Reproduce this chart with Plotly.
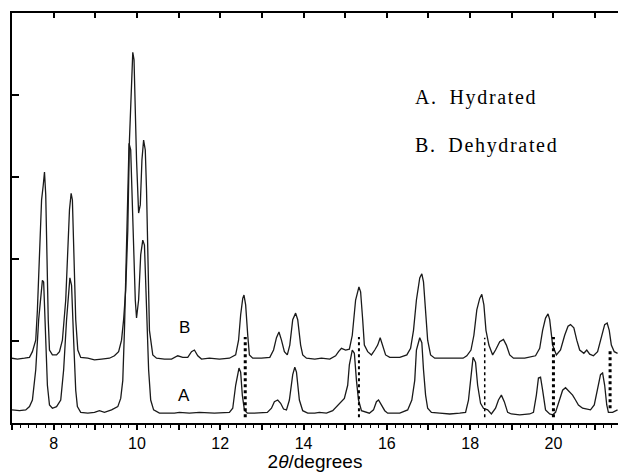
import plotly.graph_objects as go

# Curve A (hydrated) – 2theta (deg), intensity (a.u.)
a_x = [7.00, 7.18, 7.33, 7.42, 7.49, 7.57, 7.64, 7.73, 7.76, 7.81, 7.85, 7.90, 7.97, 8.07, 8.17, 8.24, 8.31, 8.39, 8.43, 8.48,
       8.53, 8.57, 8.65, 8.82, 8.98, 9.10, 9.22, 9.39, 9.54, 9.61, 9.66, 9.70, 9.75, 9.81, 9.85, 9.90, 9.96, 9.99, 10.04, 10.09,
       10.14, 10.18, 10.23, 10.28, 10.33, 10.40, 10.54, 10.90, 11.02, 11.26, 11.50, 11.86, 12.22, 12.30, 12.37, 12.45, 12.49, 12.53, 12.58, 12.65,
       12.82, 13.13, 13.23, 13.30, 13.38, 13.45, 13.52, 13.59, 13.66, 13.74, 13.79, 13.83, 13.90, 13.98, 14.10, 14.27, 14.38, 14.55, 14.70, 14.82,
       14.91, 14.98, 15.06, 15.10, 15.17, 15.22, 15.27, 15.32, 15.39, 15.49, 15.58, 15.68, 15.75, 15.80, 15.87, 15.95, 16.02, 16.31, 16.50, 16.60,
       16.67, 16.71, 16.79, 16.84, 16.88, 16.93, 16.98, 17.07, 17.27, 17.51, 17.75, 17.89, 17.96, 18.01, 18.07, 18.13, 18.18, 18.25, 18.32, 18.42,
       18.51, 18.61, 18.68, 18.75, 18.82, 18.90, 18.99, 19.19, 19.43, 19.52, 19.59, 19.64, 19.69, 19.74, 19.81, 19.91, 19.98, 20.05, 20.15, 20.22,
       20.29, 20.39, 20.46, 20.53, 20.60, 20.70, 20.79, 20.89, 20.98, 21.06, 21.13, 21.18, 21.23, 21.28, 21.32, 21.42, 21.54]
a_y = [0.16, 0.15, 0.16, 0.20, 0.28, 0.65, 1.26, 1.74, 1.72, 1.13, 0.46, 0.22, 0.18, 0.20, 0.28, 0.65, 1.26, 1.77, 1.68, 1.01,
       0.40, 0.20, 0.13, 0.12, 0.13, 0.15, 0.13, 0.16, 0.20, 0.30, 0.52, 1.13, 2.35, 3.41, 3.33, 2.35, 1.50, 1.28, 1.50, 2.05,
       2.23, 2.17, 1.50, 0.65, 0.28, 0.16, 0.12, 0.12, 0.13, 0.12, 0.13, 0.12, 0.13, 0.18, 0.46, 0.67, 0.62, 0.34, 0.16, 0.12,
       0.12, 0.13, 0.18, 0.26, 0.28, 0.24, 0.17, 0.16, 0.28, 0.59, 0.68, 0.62, 0.28, 0.15, 0.12, 0.12, 0.13, 0.12, 0.15, 0.21,
       0.26, 0.30, 0.46, 0.71, 0.89, 0.85, 0.52, 0.28, 0.15, 0.13, 0.12, 0.16, 0.26, 0.28, 0.22, 0.15, 0.12, 0.12, 0.16, 0.28,
       0.52, 0.89, 1.04, 0.98, 0.65, 0.34, 0.18, 0.13, 0.12, 0.11, 0.12, 0.13, 0.28, 0.52, 0.80, 0.74, 0.46, 0.24, 0.18, 0.16,
       0.11, 0.18, 0.28, 0.34, 0.26, 0.13, 0.11, 0.10, 0.11, 0.13, 0.34, 0.55, 0.56, 0.40, 0.16, 0.11, 0.10, 0.13, 0.28, 0.40,
       0.43, 0.38, 0.34, 0.28, 0.22, 0.18, 0.17, 0.16, 0.22, 0.40, 0.59, 0.61, 0.46, 0.22, 0.13, 0.13, 0.16]

# Curve B (dehydrated)
b_x = [7.00, 7.13, 7.30, 7.42, 7.49, 7.57, 7.61, 7.66, 7.71, 7.75, 7.78, 7.81, 7.83, 7.87, 7.90, 7.97, 8.07, 8.14, 8.21, 8.29,
       8.34, 8.38, 8.42, 8.45, 8.49, 8.53, 8.58, 8.65, 8.82, 8.98, 9.15, 9.34, 9.46, 9.56, 9.63, 9.68, 9.73, 9.78, 9.82, 9.86,
       9.90, 9.93, 9.95, 9.99, 10.04, 10.08, 10.12, 10.16, 10.20, 10.23, 10.27, 10.30, 10.38, 10.47, 10.66, 10.83, 10.98, 11.10, 11.22, 11.31,
       11.38, 11.46, 11.55, 11.74, 11.98, 12.22, 12.37, 12.44, 12.49, 12.54, 12.57, 12.61, 12.66, 12.70, 12.78, 12.99, 13.19, 13.28, 13.35, 13.41,
       13.47, 13.54, 13.61, 13.67, 13.74, 13.81, 13.86, 13.93, 13.98, 14.07, 14.27, 14.43, 14.63, 14.77, 14.84, 14.91, 15.01, 15.10, 15.17, 15.25,
       15.33, 15.37, 15.42, 15.46, 15.54, 15.63, 15.71, 15.78, 15.84, 15.90, 15.97, 16.07, 16.31, 16.48, 16.57, 16.64, 16.71, 16.79, 16.84, 16.88,
       16.93, 16.98, 17.05, 17.15, 17.51, 17.83, 17.92, 18.02, 18.09, 18.16, 18.23, 18.28, 18.33, 18.38, 18.45, 18.54, 18.61, 18.71, 18.80, 18.87,
       18.95, 19.04, 19.31, 19.57, 19.67, 19.74, 19.81, 19.87, 19.91, 19.98, 20.07, 20.17, 20.27, 20.35, 20.41, 20.49, 20.56, 20.63, 20.73, 20.80,
       20.87, 20.96, 21.06, 21.16, 21.23, 21.29, 21.34, 21.39, 21.46, 21.54]
b_y = [0.79, 0.78, 0.79, 0.80, 0.87, 1.01, 1.38, 2.11, 2.72, 2.90, 3.06, 2.78, 2.11, 1.26, 0.89, 0.83, 0.83, 0.87, 1.01, 1.50,
       2.11, 2.60, 2.80, 2.72, 1.99, 1.26, 0.89, 0.80, 0.79, 0.77, 0.78, 0.79, 0.82, 0.87, 1.01, 1.26, 1.62, 2.35, 3.45, 4.00,
       4.52, 4.43, 3.94, 3.21, 2.56, 2.66, 3.21, 3.45, 3.33, 2.84, 1.87, 1.13, 0.83, 0.79, 0.78, 0.78, 0.82, 0.80, 0.80, 0.87,
       0.89, 0.82, 0.78, 0.79, 0.78, 0.79, 0.83, 1.01, 1.32, 1.52, 1.56, 1.44, 1.07, 0.83, 0.79, 0.79, 0.80, 0.89, 1.04, 1.11,
       1.01, 0.87, 0.83, 0.95, 1.26, 1.34, 1.26, 0.95, 0.83, 0.79, 0.78, 0.79, 0.78, 0.82, 0.87, 0.91, 0.89, 0.90, 1.07, 1.50,
       1.66, 1.60, 1.26, 0.95, 0.87, 0.83, 0.89, 0.95, 1.04, 0.95, 0.83, 0.80, 0.80, 0.83, 0.91, 1.13, 1.50, 1.77, 1.82, 1.72,
       1.38, 1.01, 0.83, 0.79, 0.79, 0.79, 0.82, 0.89, 1.07, 1.38, 1.52, 1.57, 1.44, 1.13, 0.95, 0.83, 0.89, 0.99, 1.02, 0.95,
       0.83, 0.79, 0.79, 0.82, 0.91, 1.13, 1.28, 1.33, 1.26, 0.95, 0.83, 0.89, 1.07, 1.18, 1.20, 1.16, 1.01, 0.89, 0.85, 0.89,
       0.84, 0.82, 0.87, 1.07, 1.20, 1.22, 1.13, 0.95, 0.87, 0.85]

# Dotted reference markers
marker_x = [12.60, 15.33, 18.35, 20.00, 21.36]
marker_top = [1.05, 1.05, 1.04, 1.05, 0.91]
marker_bottom = [0.07, 0.07, 0.07, 0.07, 0.18]
marker_width = [3, 2, 1.5, 3, 3]

legend_lines = ["A. Hydrated", "B. Dehydrated"]

x_range = [7, 21.55]
y_range = [0, 5]
x_ticks = list(range(7, 22))
x_ticktext = [str(v) if v % 2 == 0 else "" for v in x_ticks]


def spaced(s):
    # widen letter spacing like the reference's bitmap font
    return "\u200a".join(s.replace(" ", "\u2002"))


fig = go.Figure()
line_col = "#1a1a1a"
fig.add_trace(go.Scatter(x=a_x, y=a_y, mode="lines", line=dict(color=line_col, width=1.3), showlegend=False, hoverinfo="skip"))
fig.add_trace(go.Scatter(x=b_x, y=b_y, mode="lines", line=dict(color=line_col, width=1.3), showlegend=False, hoverinfo="skip"))
for mx, mt, mb, mw in zip(marker_x, marker_top, marker_bottom, marker_width):
    fig.add_trace(go.Scatter(x=[mx, mx], y=[mb, mt], mode="lines",
                             line=dict(color="black", width=mw, dash="dot"), showlegend=False, hoverinfo="skip"))
# invisible trace to anchor top axis
fig.add_trace(go.Scatter(x=x_range, y=[None, None], xaxis="x2", mode="lines", showlegend=False, hoverinfo="skip"))

fig.add_annotation(x=11.14, y=1.17, text="B", showarrow=False, font=dict(family="Liberation Sans, Arial", size=17, color="black"))
fig.add_annotation(x=11.14, y=0.34, text="A", showarrow=False, font=dict(family="Liberation Sans, Arial", size=17, color="black"))
fig.add_annotation(x=16.62, y=3.97, text=spaced(legend_lines[0]), showarrow=False, xanchor="left",
                   font=dict(family="Liberation Serif, Times New Roman", size=20, color="black"))
fig.add_annotation(x=16.62, y=3.38, text=spaced(legend_lines[1]), showarrow=False, xanchor="left",
                   font=dict(family="Liberation Serif, Times New Roman", size=20, color="black"))

fig.update_layout(
    width=618, height=472,
    margin=dict(l=12, r=0, t=13, b=49),
    paper_bgcolor="white", plot_bgcolor="white",
    xaxis=dict(range=x_range, tickvals=x_ticks, ticktext=x_ticktext, ticks="outside", ticklen=5, tickwidth=1.5,
               tickcolor="black", showline=True, linecolor="black", linewidth=2, showgrid=False, zeroline=False,
               automargin=False,
               minor=dict(dtick=0.2, ticks="outside", ticklen=3, tickcolor="black", tickwidth=1),
               tickfont=dict(family="Liberation Sans, Arial", size=16, color="black"),
               title=dict(text="2<i>θ</i>/degrees", font=dict(family="Liberation Sans, Arial", size=19, color="black"), standoff=6)),
    xaxis2=dict(range=x_range, overlaying="x", side="top", dtick=1, tick0=7, ticks="inside", ticklen=5, tickwidth=1.5,
                tickcolor="black", showline=True, linecolor="black", linewidth=2, showticklabels=False, showgrid=False, zeroline=False),
    yaxis=dict(range=y_range, dtick=1, ticks="inside", ticklen=7, tickwidth=1.5, tickcolor="black", showline=True,
               linecolor="black", linewidth=2, showticklabels=False, showgrid=False, zeroline=False),
)
fig.write_html("out.html")
